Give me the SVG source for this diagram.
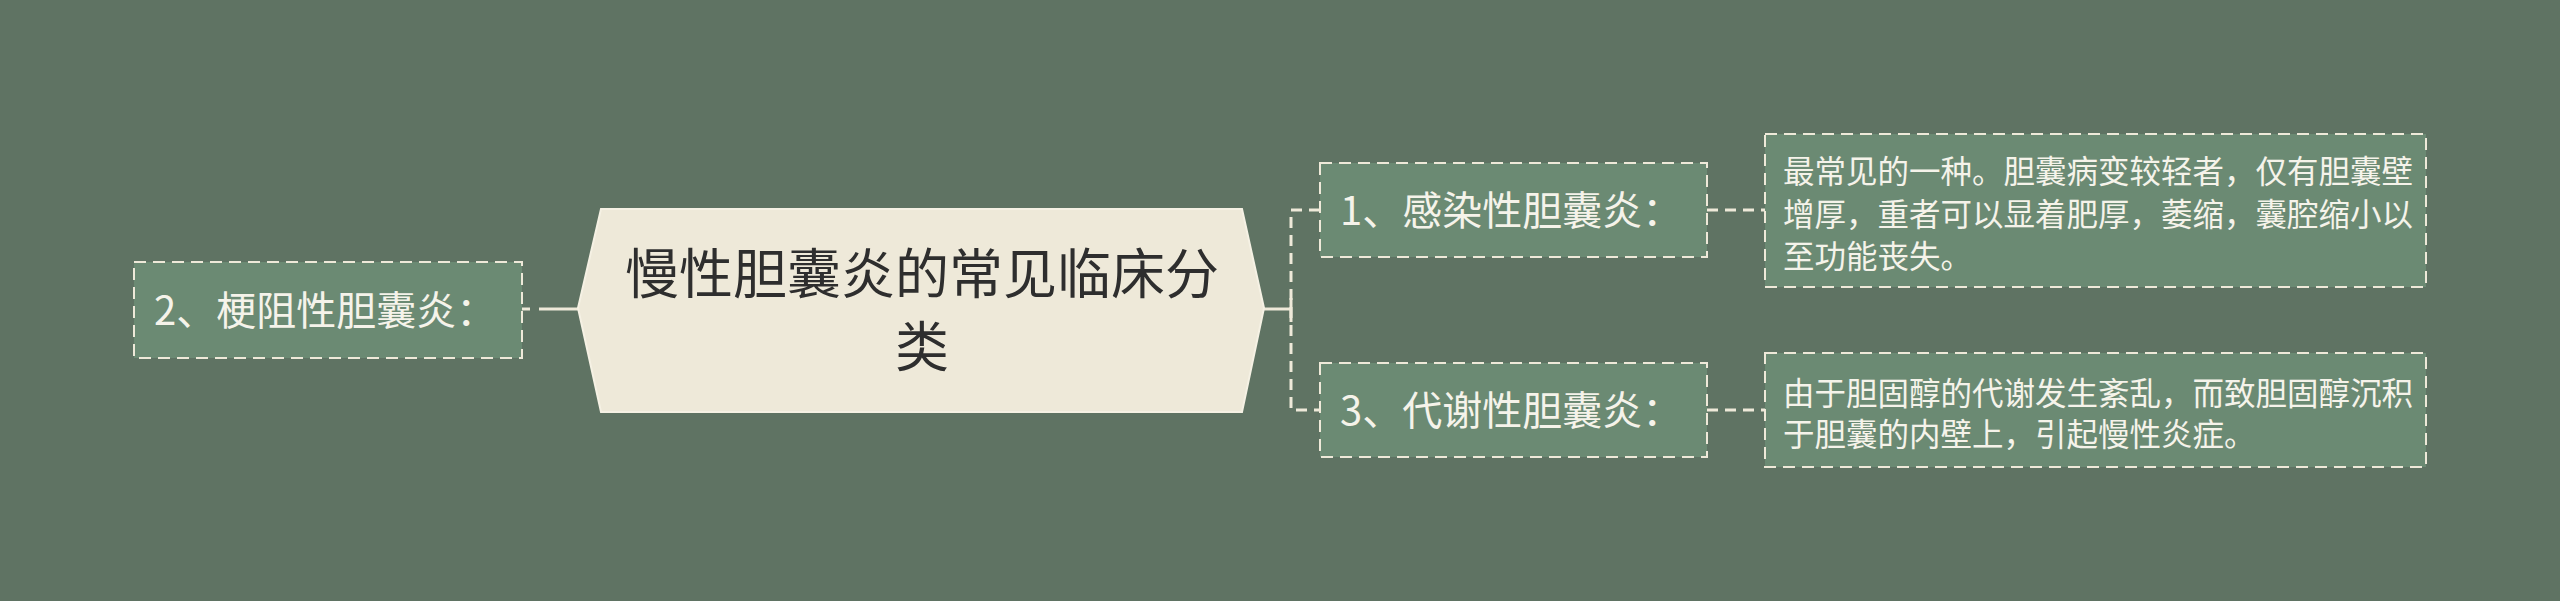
<svg xmlns="http://www.w3.org/2000/svg" width="2560" height="601" viewBox="0 0 2560 601">
<style>
.box{fill:#6B8A73;stroke:#EEE9D9;stroke-width:2;stroke-dasharray:12 7}
.lbl{font-family:"Noto Sans CJK SC","Microsoft YaHei",sans-serif;font-size:40px;fill:#F5F3EA}
.det{font-family:"Noto Sans CJK SC","Microsoft YaHei",sans-serif;font-size:31.5px;fill:#F5F3EA}
.ctr{font-family:"Noto Sans CJK SC","Microsoft YaHei",sans-serif;font-size:54px;fill:#2E2E2E}
.dash{fill:none;stroke:#EEE9D9;stroke-width:3;stroke-dasharray:11 7}
.solid{fill:none;stroke:#EEE9D9;stroke-width:3}
</style>
<rect width="2560" height="601" fill="#5F7363"/>
<g id="connectors">
  <line class="solid" x1="522" y1="309" x2="530" y2="309"/>
  <line class="solid" x1="539" y1="309" x2="578" y2="309"/>
  <line class="solid" x1="1264" y1="309" x2="1291" y2="309"/>
  <line class="solid" x1="1291" y1="298" x2="1291" y2="322"/>
  <path class="dash" d="M1320 210 H1291 V410 H1320"/>
  <line class="dash" x1="1707" y1="210" x2="1765" y2="210"/>
  <line class="dash" x1="1707" y1="410" x2="1765" y2="410"/>
</g>
<g id="center">
  <polygon points="601,209 1242,209 1264,308 1242,412 601,412 578,308" fill="#EEE9D9" stroke="#F5F1E4" stroke-width="2"/>
  <text class="ctr" x="922" y="294" text-anchor="middle">慢性胆囊炎的常见临床分</text>
  <text class="ctr" x="922" y="367" text-anchor="middle">类</text>
</g>
<g id="node2">
  <rect class="box" x="134" y="262" width="388" height="96"/>
  <text class="lbl" x="154" y="325">2、梗阻性胆囊炎：</text>
</g>
<g id="node1">
  <rect class="box" x="1320" y="163" width="387" height="94"/>
  <text class="lbl" x="1340" y="225">1、感染性胆囊炎：</text>
</g>
<g id="node3">
  <rect class="box" x="1320" y="363" width="387" height="94"/>
  <text class="lbl" x="1340" y="425">3、代谢性胆囊炎：</text>
</g>
<g id="detail1">
  <rect class="box" x="1765" y="134" width="661" height="153"/>
  <text class="det" x="1783" y="183">最常见的一种。胆囊病变较轻者，仅有胆囊壁</text>
  <text class="det" x="1783" y="226">增厚，重者可以显着肥厚，萎缩，囊腔缩小以</text>
  <text class="det" x="1783" y="268">至功能丧失。</text>
</g>
<g id="detail3">
  <rect class="box" x="1765" y="353" width="661" height="114"/>
  <text class="det" x="1783" y="405">由于胆固醇的代谢发生紊乱，而致胆固醇沉积</text>
  <text class="det" x="1783" y="446">于胆囊的内壁上，引起慢性炎症。</text>
</g>
</svg>
